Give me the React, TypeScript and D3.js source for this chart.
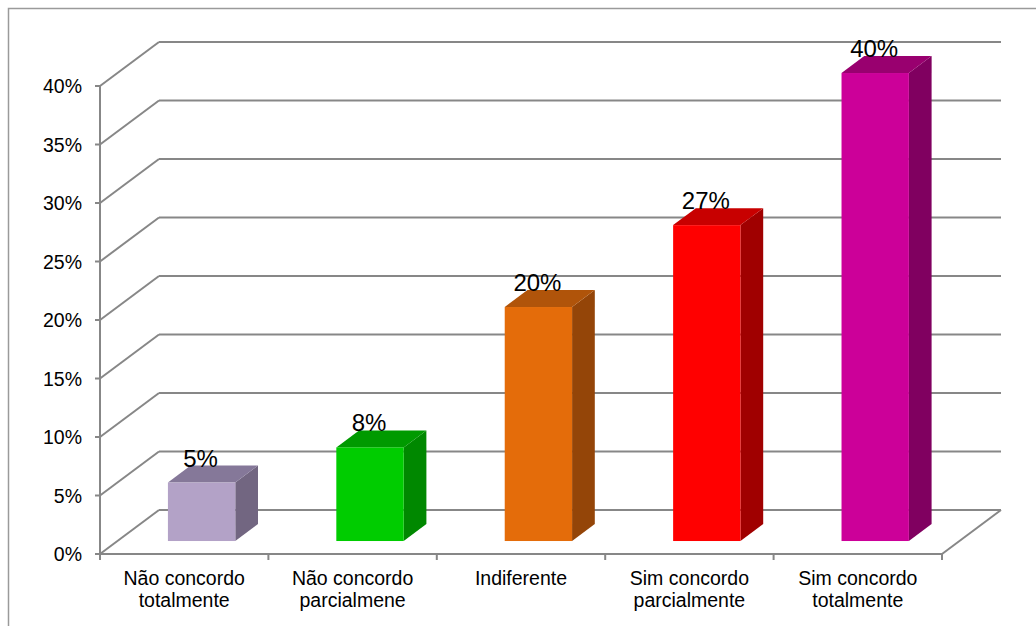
import React from "react";
import * as d3 from "d3";

const categories: string[][] = [
  ["Não concordo", "totalmente"],
  ["Não concordo", "parcialmene"],
  ["Indiferente"],
  ["Sim concordo", "parcialmente"],
  ["Sim concordo", "totalmente"],
];
const values: number[] = [0.05, 0.08, 0.2, 0.27, 0.4];
const valueLabels: string[] = ["5%", "8%", "20%", "27%", "40%"];
const yTicks: number[] = [0, 0.05, 0.1, 0.15, 0.2, 0.25, 0.3, 0.35, 0.4];
const frontColors = ["#B3A2C7", "#00CC00", "#E46C0A", "#FF0000", "#CC0099"];
const topColors = ["#857899", "#009A00", "#B0540A", "#C80000", "#99006F"];
const sideColors = ["#726681", "#008800", "#944508", "#A00000", "#800060"];

const W = 1036;
const H = 627;
const DX = 59;
const DY = -44;
const F0 = 0.295;
const F1 = 0.68;
const FONT = "'Liberation Sans', Arial, sans-serif";
const GRID = "#878787";

export default function App() {
  const keys = categories.map((c, i) => String(i));
  const x = d3.scaleBand<string>().domain(keys).range([100, 942]).paddingInner(0).paddingOuter(0);
  const y = d3.scaleLinear().domain([0, 0.4]).range([554, 86]);
  const bw = x.bandwidth();
  const barW = bw * 0.4;
  const pct = d3.format(".0%");

  return (
    <svg
      width={W}
      height={H}
      style={{ position: "absolute", left: 0, top: 0, background: "#fff" }}
      fontFamily={FONT}
    >
      {/* outer border */}
      <path d={`M8.5,626 L8.5,8.5 L1040,8.5`} fill="none" stroke="#9a9a9a" strokeWidth={1.5} />

      {/* back wall gridlines + side wall diagonals */}
      {yTicks.map((t) => {
        const yf = y(t);
        return (
          <g key={"g" + t}>
            <line x1={100} y1={yf} x2={100 + DX} y2={yf + DY} stroke={GRID} strokeWidth={2} />
            <line x1={100 + DX} y1={yf + DY} x2={1001} y2={yf + DY} stroke={GRID} strokeWidth={2} />
          </g>
        );
      })}

      {/* floor */}
      <line x1={942} y1={554} x2={942 + DX} y2={554 + DY} stroke={GRID} strokeWidth={2} />
      <line x1={100} y1={554} x2={942} y2={554} stroke={GRID} strokeWidth={2} />

      {/* y axis */}
      <line x1={100} y1={y(0.4)} x2={100} y2={y(0)} stroke={GRID} strokeWidth={2} />
      {yTicks.map((t) => (
        <g key={"t" + t}>
          <line x1={95} y1={y(t)} x2={100} y2={y(t)} stroke={GRID} strokeWidth={2} />
          <text x={82} y={y(t) + 7} textAnchor="end" fontSize={19.5} fill="#000">
            {pct(t)}
          </text>
        </g>
      ))}

      {/* category ticks */}
      {[...keys.map((k) => x(k) as number), 942].map((px, i) => (
        <line key={"c" + i} x1={px} y1={554} x2={px} y2={560} stroke={GRID} strokeWidth={2} />
      ))}

      {/* bars */}
      {values.map((v, i) => {
        const bx = (x(keys[i]) as number) + (bw - barW) / 2 + F0 * DX;
        const ytop = y(v) + F0 * DY;
        const ybot = y(0) + F0 * DY;
        const ddx = (F1 - F0) * DX;
        const ddy = (F1 - F0) * DY;
        const topPath = `M${bx},${ytop} L${bx + ddx},${ytop + ddy} L${bx + barW + ddx},${ytop + ddy} L${bx + barW},${ytop} Z`;
        const sidePath = `M${bx + barW},${ytop} L${bx + barW + ddx},${ytop + ddy} L${bx + barW + ddx},${ybot + ddy} L${bx + barW},${ybot} Z`;
        return (
          <g key={"b" + i}>
            <path d={sidePath} fill={sideColors[i]} />
            <path d={topPath} fill={topColors[i]} />
            <rect x={bx} y={ytop} width={barW} height={ybot - ytop} fill={frontColors[i]} />
            <text
              x={bx + barW / 2 - 1}
              y={ytop - 16}
              textAnchor="middle"
              fontSize={24}
              fill="#000"
            >
              {valueLabels[i]}
            </text>
          </g>
        );
      })}

      {/* category labels */}
      {categories.map((lines, i) => {
        const cx = (x(keys[i]) as number) + bw / 2;
        return (
          <text key={"l" + i} x={cx} textAnchor="middle" fontSize={19.5} fill="#000">
            {lines.map((ln, j) => (
              <tspan key={j} x={cx} y={585 + j * 22}>
                {ln}
              </tspan>
            ))}
          </text>
        );
      })}
    </svg>
  );
}
